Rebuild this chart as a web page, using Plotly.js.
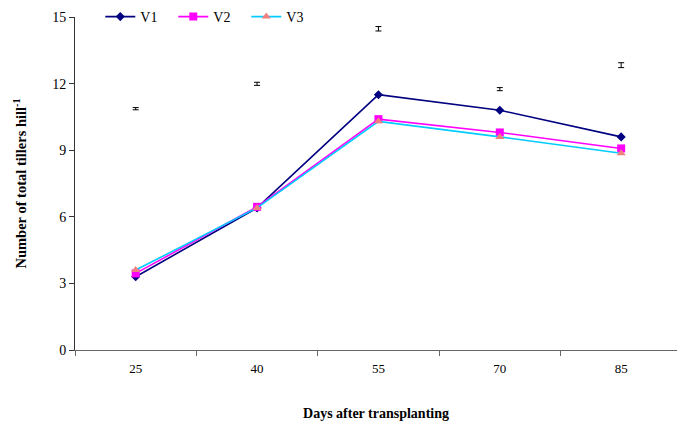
<!DOCTYPE html>
<html>
<head>
<meta charset="utf-8">
<script src="https://cdn.plot.ly/plotly-3.0.1.min.js"></script>
<style>html,body{margin:0;padding:0;background:#fff;}#chart{width:677px;height:421px;}</style>
</head>
<body>
<div id="chart"></div>
<script>
// Days after transplanting
const days = ['25', '40', '55', '70', '85'];
// Total tillers per hill for each variety
const v1 = [3.3, 6.4, 11.5, 10.8, 9.6];
const v2 = [3.45, 6.45, 10.4, 9.8, 9.08];
const v3 = [3.6, 6.4, 10.3, 9.6, 8.86];
// LSD bars drawn above each sampling date
const lsdPos = [10.87, 11.99, 14.47, 11.75, 12.83];
const lsdHalf = [0.05, 0.07, 0.1, 0.07, 0.11];

const serif = 'Liberation Serif, DejaVu Serif, serif';

const traces = [
  {
    x: days, y: v1, name: 'V1', type: 'scatter', mode: 'lines+markers',
    line: {color: '#000080', width: 1.6},
    marker: {symbol: 'diamond', size: 7, color: '#000080'}
  },
  {
    x: days, y: v2, name: 'V2', type: 'scatter', mode: 'lines+markers',
    line: {color: '#FF00FF', width: 1.6},
    marker: {symbol: 'square', size: 8, color: '#FF00FF'}
  },
  {
    x: days, y: v3, name: 'V3', type: 'scatter', mode: 'lines+markers',
    line: {color: '#00CCFF', width: 1.6},
    marker: {symbol: 'triangle-up', size: 8, color: '#F08080'}
  },
  {
    x: days, y: lsdPos, type: 'scatter', mode: 'markers', showlegend: false,
    hoverinfo: 'skip',
    marker: {size: 1, color: 'rgba(0,0,0,0)'},
    error_y: {type: 'data', array: lsdHalf, visible: true, color: '#000', thickness: 1, width: 3}
  }
];

const layout = {
  width: 677, height: 421,
  margin: {l: 75, r: 0, t: 17, b: 71},
  paper_bgcolor: '#fff', plot_bgcolor: '#fff',
  font: {family: serif, size: 13, color: '#000'},
  showlegend: true,
  legend: {
    orientation: 'h', x: 0.042, xanchor: 'left', y: 1.0, yanchor: 'middle',
    font: {family: serif, size: 14, color: '#000'},
    entrywidth: 28, entrywidthmode: 'pixels', bgcolor: 'rgba(0,0,0,0)'
  },
  xaxis: {
    type: 'category', range: [-0.5, 4.46],
    tickson: 'boundaries', ticks: 'outside', ticklen: 5, tickcolor: '#666',
    ticklabelstandoff: 6,
    showline: true, linecolor: '#666', linewidth: 1,
    showgrid: false, zeroline: false,
    tickfont: {family: serif, size: 13, color: '#000'},
    title: {text: '<b>Days after transplanting</b>', font: {family: serif, size: 14, color: '#000'}, standoff: 34}
  },
  yaxis: {
    range: [0, 15], tickvals: [0, 3, 6, 9, 12, 15],
    ticks: 'outside', ticklen: 5, tickcolor: '#333',
    showline: true, linecolor: '#333', linewidth: 1,
    showgrid: false, zeroline: false,
    tickfont: {family: serif, size: 14, color: '#000'},
    title: {text: '<b>Number of total tillers hill<sup>-1</sup></b>', font: {family: serif, size: 14.5, color: '#000'}, standoff: 22}
  }
};

Plotly.newPlot('chart', traces, layout, {displayModeBar: false, staticPlot: true});
</script>
</body>
</html>
